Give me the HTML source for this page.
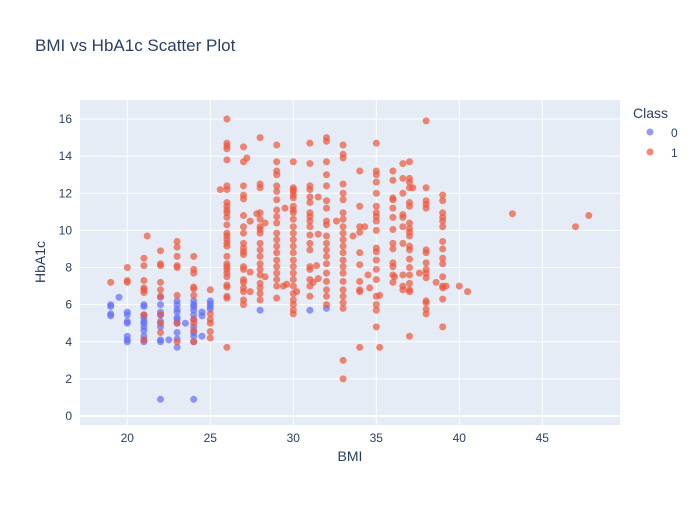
<!DOCTYPE html>
<html><head><meta charset="utf-8"><style>
body{margin:0;background:#fff}
svg text{font-family:"Liberation Sans",Arial,sans-serif;fill:#2a3f5f}
</style></head><body>
<svg id="chart" width="700" height="500" xmlns="http://www.w3.org/2000/svg">
<rect width="700" height="500" fill="#fff"/>
<text x="35" y="51" font-size="17">BMI vs HbA1c Scatter Plot</text>
<rect x="80" y="100" width="540" height="325" fill="#e5ecf6"/>
<g id="grid"></g><g id="ticks"></g><g id="marks"></g>
<text x="350" y="461" font-size="14" text-anchor="middle">BMI</text>
<text transform="translate(45,262) rotate(-90)" font-size="14" text-anchor="middle">HbA1c</text>
<text x="633" y="118" font-size="14">Class</text>
<g><circle cx="650" cy="132" r="3.5" fill="#636efa" opacity="0.7"/><text x="671" y="137" font-size="12">0</text></g>
<g><circle cx="650" cy="152" r="3.5" fill="#EF553B" opacity="0.7"/><text x="671" y="157" font-size="12">1</text></g>
</svg>
<script>
const xTicks=[20,25,30,35,40,45];
const yTicks=[0,2,4,6,8,10,12,14,16];
const class0Cols=[[19,[6.0,5.9,5.5,5.4]],[19.5,[6.4]],[20,[5.6,5.45,5.1,5.0,4.3,4.1,4.0]],[21,[6.0,5.9,5.45,5.3,5.1,5.0,4.8,4.6,4.3,4.1,4.0]],[22,[6.4,6.0,5.6,5.45,5.1,4.8,4.1,4.0,0.9]],[22.5,[4.1]],[23,[6.2,6.0,5.75,5.6,5.3,5.2,5.0,4.5,4.15,3.7]],[23.5,[5.0]],[24,[6.2,6.0,5.9,5.7,5.45,5.2,4.8,4.5,4.3,4.0,0.9]],[24.5,[5.6,5.4,4.3]],[25,[6.2,6.05,5.9,5.75]],[28,[5.7]],[31,[5.7]],[32,[5.8]]];
const class1Cols=[[19,[7.2]],[20,[8.0,7.3,7.2]],[21,[8.5,8.1,7.3,6.9,6.8,6.65,5.45,4.1]],[21.2,[9.7]],[22,[8.9,8.2,8.1,7.2,6.8,6.45,5.45,5.0,4.5]],[23,[9.4,9.1,8.6,8.1,8.0,6.5,5.0,4.0]],[24,[8.6,7.9,7.7,6.95,6.85,6.5,5.2,5.0,4.6,4.0]],[25,[6.8,5.5,5.2,5.0,4.55,4.2]],[25.6,[12.2]],
[26,[16.0,14.7,14.55,14.4,13.8,12.4,12.2,11.5,11.3,11.1,10.95,10.7,10.3,9.85,9.7,9.5,9.3,9.15,8.6,8.2,8.05,7.9,7.7,7.5,7.05,6.95,6.45,6.35,3.7]],
[27,[14.5,13.7,12.4,11.9,11.7,10.8,10.2,9.85,9.3,9.05,8.85,8.7,8.05,7.9,7.35,7.2,6.9,6.7,6.25,6.0]],[27.2,[13.9]],[27.4,[10.5,7.75,6.7]],[27.8,[10.9]],
[28,[15.0,12.5,12.3,10.95,10.6,10.2,10.05,9.85,9.3,8.95,8.6,8.2,7.9,7.6,7.15,6.9,6.6,6.25]],[28.3,[10.4,7.5]],
[29,[14.6,13.7,13.2,13.0,12.4,12.1,11.65,11.1,10.75,10.4,9.85,9.5,9.15,8.8,8.4,8.05,7.7,7.35,7.0,6.35]],[29.4,[7.0]],[29.5,[11.2]],[29.6,[7.1]],
[30,[13.7,12.3,12.2,12.1,11.9,11.75,11.3,11.1,10.95,10.6,10.2,9.85,9.5,9.15,8.8,8.4,8.05,7.7,7.35,7.0,6.6,6.25,6.0,5.7,5.5]],[30.2,[6.7]],
[31,[14.7,13.6,12.4,12.2,11.8,11.5,10.95,10.75,10.5,10.2,9.75,9.3,8.95,8.05,7.9,7.35,7.0,6.45]],[31.2,[7.2]],[31.4,[8.1]],[31.5,[11.8,9.8,7.4]],
[32,[15.0,14.8,13.7,13.0,12.4,11.6,11.2,10.5,10.3,9.7,9.3,8.95,8.6,8.2,7.7,7.25,6.8,6.45,6.0]],[32.6,[10.5]],
[33,[14.6,14.1,13.9,12.5,12.0,11.65,10.95,10.6,10.2,9.85,9.5,9.15,8.8,8.4,8.05,7.7,7.25,6.8,6.45,6.1,5.8,3.0,2.0]],[33.6,[9.7]],
[34,[13.2,11.3,10.2,9.9,8.8,8.15,7.25,6.8,6.7,3.7]],[34.3,[10.2]],[34.5,[7.6]],[34.6,[6.9]],
[35,[14.7,13.2,13.0,12.6,12.0,11.3,10.95,10.75,10.5,10.0,9.05,8.85,8.4,7.9,7.35,6.45,6.0,5.7,4.8]],[35.2,[6.5,3.7]],
[36,[13.2,12.7,11.75,11.65,11.2,10.7,10.05,9.3,9.0,8.25,8.05,7.6,7.2]],[36.1,[7.5]],[36.6,[13.6,12.8,12.0,10.85,10.7,10.2,9.3,7.6,7.0,6.8]],
[37,[13.7,12.8,12.6,12.3,11.5,11.3,10.4,10.1,9.9,9.7,9.15,8.95,8.45,8.0,7.6,7.15,6.8,6.7,4.3]],[37.2,[12.3]],[37.6,[7.7]],
[38,[15.9,12.3,11.6,11.4,11.2,8.95,8.8,8.25,7.9,7.7,7.45,6.2,6.1,5.75,5.5]],[38.6,[7.2]],
[39,[11.9,11.6,10.95,10.7,10.5,10.2,9.4,9.0,8.5,8.2,7.5,7.0,6.9,6.3,4.8]],[39.2,[7.0]],[40,[7.0]],[40.5,[6.7]],[43.2,[10.9]],[47,[10.2]],[47.8,[10.8]]];

const NS="http://www.w3.org/2000/svg";
function xS(v){return 127.3+(v-20)*16.6;}
function yS(v){return 416-v*18.56;}
function mk(tag,attrs,parent){const e=document.createElementNS(NS,tag);for(const k in attrs)e.setAttribute(k,attrs[k]);parent.appendChild(e);return e;}
const grid=document.getElementById('grid'),ticks=document.getElementById('ticks'),marks=document.getElementById('marks');
xTicks.forEach(t=>{
  const l=mk('line',{x1:xS(t),x2:xS(t),y1:100,y2:425,stroke:'#fff','stroke-width':1},grid);
  
  
  const tx=mk('text',{x:xS(t),y:442,'font-size':12,'text-anchor':'middle'},ticks);
  tx.textContent=t;
  
  
});
yTicks.forEach(t=>{
  const l=mk('line',{x1:80,x2:620,y1:yS(t),y2:yS(t),stroke:'#fff','stroke-width':t===0?2:1},grid);
  
  
  const tx=mk('text',{x:72,y:yS(t)+4,'font-size':12,'text-anchor':'end'},ticks);
  tx.textContent=t;
  
  
});
function draw(cols,color,name){
  cols.forEach(c=>c[1].forEach(v=>{
    const p=mk('circle',{cx:xS(c[0]),cy:yS(v),r:3.5,fill:color,opacity:0.7},marks);
    
    
  }));
}
draw(class0Cols,'#636efa','point-class-0');
draw(class1Cols,'#EF553B','point-class-1');
</script>
</body></html>
